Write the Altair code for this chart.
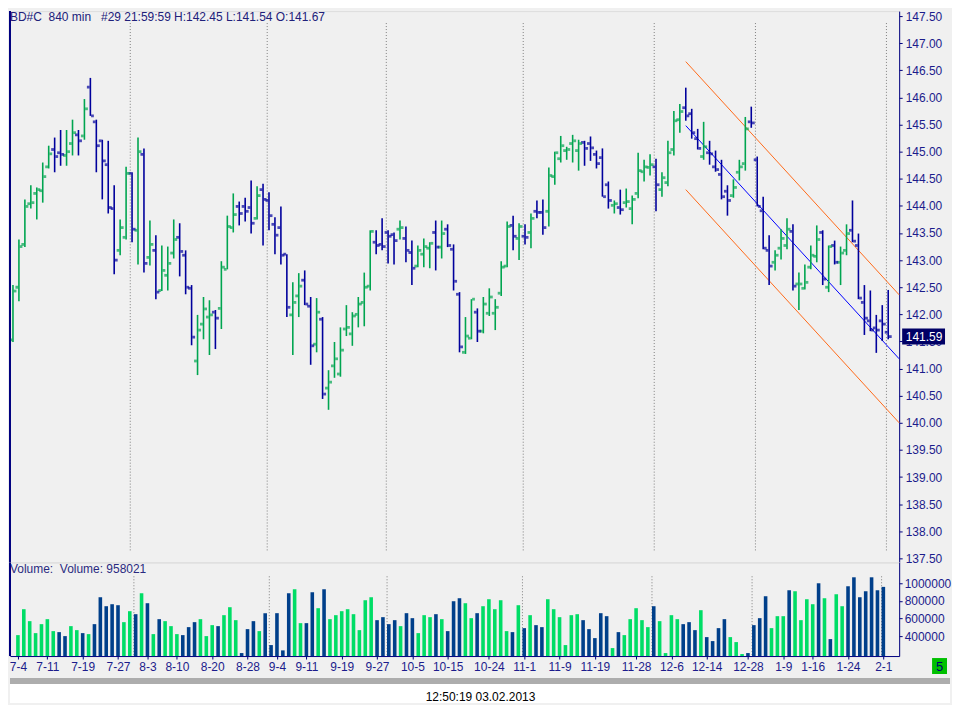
import altair as alt
import pandas as pd
import numpy as np

# ---------------- data ----------------
opens = [141.53,142.50,143.29,144.04,144.23,144.28,144.72,145.04,144.98,144.93,
145.15,145.31,145.29,146.19,145.55,145.20,144.76,143.95,143.18,143.42,
144.60,143.55,144.95,143.05,143.18,142.44,142.72,143.13,143.42,143.09,
142.48,141.14,141.82,141.95,142.04,142.11,142.83,143.60,143.99,143.99,
143.97,143.77,144.30,144.10,143.66,143.60,143.11,141.99,142.34,142.63,
142.15,141.45,141.91,140.64,141.05,140.90,141.73,141.64,142.00,142.22,
142.52,143.33,143.29,143.51,143.47,143.57,143.40,143.14,142.89,143.11,
143.22,143.51,143.24,143.57,143.20,142.37,141.30,141.56,142.04,141.69,
142.02,142.02,142.39,142.89,143.64,143.40,143.44,143.51,143.90,143.88,
143.90,144.54,144.87,145.02,145.15,145.02,145.17,145.15,144.95,144.89,
144.39,144.01,143.97,144.06,143.95,144.23,144.63,144.71,144.72,144.30,
144.43,145.04,145.59,145.81,145.70,145.24,144.91,144.98,144.72,144.58,
144.27,144.19,144.62,144.78,145.55,144.85,143.91,143.18,142.96,143.22,
143.27,143.53,142.56,142.48,142.87,143.07,143.51,142.50,143.27,142.96,
143.18,143.55,143.27,142.22,141.88,141.75,141.88,141.67]

highs = [142.54,143.38,144.12,144.38,144.34,144.80,145.11,145.26,145.40,145.40,
145.59,145.40,145.97,146.36,145.59,145.22,145.20,144.38,143.75,144.72,
144.62,145.26,145.06,143.73,143.46,143.27,143.25,143.75,143.68,143.18,
142.54,141.99,142.32,142.26,142.08,142.98,143.82,144.23,144.08,144.15,
144.47,144.36,144.41,144.25,143.79,143.99,143.11,142.59,142.76,142.81,
142.32,142.30,141.95,140.97,141.49,141.76,142.17,142.04,142.32,142.77,
143.55,143.55,143.77,143.55,143.51,143.73,143.62,143.36,143.27,143.40,
143.33,143.73,143.73,143.66,143.29,142.41,141.95,142.28,142.11,142.32,
142.48,142.28,142.98,143.71,143.82,143.68,143.66,143.86,144.10,144.12,
144.71,145.00,145.29,145.09,145.31,145.22,145.20,145.28,145.02,145.06,
144.45,144.10,144.30,144.32,144.19,144.98,144.85,144.95,144.87,144.62,
145.20,145.75,145.88,146.18,145.79,145.42,145.55,145.20,145.02,144.85,
144.38,144.49,144.85,145.64,145.83,144.91,144.17,143.46,143.18,143.57,
143.77,143.66,142.77,142.92,143.27,143.64,143.55,143.27,143.36,143.25,
143.66,144.10,143.49,142.54,142.44,141.99,142.17,142.45]

lows = [141.49,142.24,143.24,143.95,143.75,144.06,144.69,144.62,144.74,144.74,
144.93,144.93,145.22,145.66,144.62,144.12,143.86,142.74,143.09,143.38,
143.33,142.92,142.77,142.90,142.28,142.43,142.44,143.03,142.70,142.37,
141.43,140.88,141.54,141.25,141.36,141.73,142.83,143.51,143.64,143.71,
143.49,143.75,143.27,143.55,143.11,142.92,141.95,141.25,141.95,142.17,
141.07,141.30,140.44,140.24,140.83,140.85,141.60,141.42,141.76,141.78,
142.44,143.11,143.18,142.94,142.92,143.38,142.96,142.54,142.87,142.87,
142.85,142.81,143.03,143.24,142.44,141.30,141.27,141.54,141.49,141.65,
141.97,141.71,142.34,142.87,143.18,143.00,143.29,143.22,143.77,143.47,
143.62,144.39,144.80,144.85,144.80,144.65,144.74,144.83,144.69,144.17,
143.95,143.86,143.84,143.97,143.66,144.14,144.45,144.56,143.90,144.17,
144.36,144.93,145.35,145.57,145.24,145.04,144.85,144.76,144.63,144.12,
143.82,144.15,144.47,144.65,145.44,143.99,143.20,142.54,142.81,143.01,
143.20,142.44,142.08,142.46,142.83,142.96,142.54,142.41,142.92,142.54,
143.09,143.33,142.28,141.62,141.69,141.29,141.51,141.54]

closes = [142.43,143.25,143.99,144.06,144.30,144.54,144.96,144.91,144.95,145.00,
145.35,145.20,145.79,145.66,145.11,144.83,143.97,143.00,143.60,144.60,
143.57,145.00,142.94,143.29,142.41,142.81,142.94,143.38,143.16,142.50,
141.58,141.71,142.10,141.99,141.93,142.87,143.62,143.84,143.86,143.90,
143.68,144.19,144.12,143.82,143.46,143.09,142.13,142.22,142.52,142.19,
141.42,142.04,140.53,140.75,141.18,141.34,141.76,141.97,142.19,142.50,
143.53,143.27,143.25,143.44,143.36,143.60,143.18,142.85,143.18,143.25,
143.31,143.24,143.49,143.27,142.61,141.40,141.60,142.28,141.69,142.19,
142.32,142.13,142.87,143.62,143.44,143.62,143.42,143.77,143.88,143.60,
144.56,144.98,145.11,145.04,145.20,145.15,145.06,145.07,144.78,144.17,
144.10,144.04,143.93,144.08,144.12,144.65,144.72,144.76,144.39,144.52,
144.98,145.57,145.74,145.66,145.35,145.06,145.09,144.96,144.67,144.17,
144.10,144.34,144.72,145.42,145.53,143.99,143.22,142.89,143.09,143.40,
143.57,142.52,142.56,142.59,143.09,143.38,142.65,143.25,142.96,143.13,
143.49,143.35,142.30,141.93,141.71,141.71,141.82,141.59]

volumes = [411300,705000,569500,433900,535600,592100,456500,445200,400000,513000,
467800,433900,422600,535600,840600,738900,761500,750200,558200,682500,
648600,885800,772800,422600,592100,569500,513000,422600,411300,501700,
558200,592100,400000,524300,513000,637300,727600,580800,207900,479100,
569500,456500,659900,298300,659900,238100,885800,931000,546900,546900,
897100,716300,931000,592100,637300,682500,705000,648600,467800,806700,
840600,580800,614700,535600,580800,513000,659900,603400,433900,637300,
614700,648600,592100,456500,795400,829300,772800,603400,659900,738900,
818000,705000,806700,456500,445200,750200,490400,637300,524300,501700,
818000,705000,614700,298300,637300,648600,580800,479100,377400,659900,
626000,264400,445200,411300,592100,716300,580800,501700,738900,569500,
207900,637300,592100,535600,558200,467800,693700,388700,343500,490400,
592100,388700,332200,196600,207900,524300,603400,851900,490400,626000,
626000,919700,908400,580800,818000,761500,998800,829300,366100,874500,
738900,964900,1066600,840600,908400,1066600,919700,958021]

date_labels = ["7-4","7-11","7-19","7-27","8-3","8-10","8-20","8-28","9-4","9-11",
               "9-19","9-27","10-5","10-15","10-24","11-1","11-9","11-19","11-28",
               "12-6","12-14","12-28","1-9","1-16","1-24","2-1"]
date_idx = [0,5,11,17,22,27,33,39,44,49,55,61,67,73,80,86,92,98,105,111,117,124,130,135,141,147]

month_sep = [19.7, 42.7, 62.7, 85.7, 107.7, 124.7, 146.7]

chan_name = ["upper", "mid", "lower"]
chan_start_idx = [113, 113, 113]
chan_end_idx = [148.84, 148.84, 148.84]
chan_start = [146.66, 145.48, 144.30]
chan_end = [142.36, 141.18, 140.00]

price_ticks = [137.5 + 0.5 * k for k in range(21)]
vol_ticks = [400000, 600000, 800000, 1000000]

header = "BD#C\u00a0\u00a0840 min\u00a0\u00a0\u00a0#29 21:59:59 H:142.45 L:141.54 O:141.67"
vol_title = "Volume:\u00a0\u00a0Volume: " + str(volumes[-1])
stamp = "12:50:19 03.02.2013"

# ---------------- styling ----------------
W = 892
HP = 553
HV = 94
GREEN = "#00A550"
NAVY = "#00009C"
VGREEN = "#00DD66"
VBLUE = "#003F8A"
AXNAVY = "#000080"
LABC = "#1C1C8C"
FONT = "Liberation Sans"

df = pd.DataFrame({"i": list(range(len(opens))), "o": opens, "h": highs,
                   "l": lows, "c": closes, "v": volumes})
df["dir"] = np.where(df["c"] >= df["o"], "up", "down")

xs = alt.Scale(domain=[-0.5, 148.84], nice=False, zero=False)
ys = alt.Scale(domain=[137.427, 147.592], nice=False, zero=False)
vs = alt.Scale(domain=[174000, 1236000], nice=False, zero=False)

price_axis = alt.Axis(orient="right", values=price_ticks, format=".2f", title=None,
                      grid=False, tickSize=3, labelPadding=3, labelOverlap=False,
                      labelColor=LABC, domainColor=AXNAVY, tickColor=AXNAVY,
                      labelFontSize=12, labelFont=FONT)

def py(field):
    return alt.Y(field, type="quantitative", scale=ys, axis=price_axis)

def px(field):
    return alt.X(field, type="quantitative", scale=xs, axis=None)

pcolor = alt.Color("dir:N", scale=alt.Scale(domain=["up", "down"], range=[GREEN, NAVY]), legend=None)

base = alt.Chart(df)

month_df = pd.DataFrame({"m": month_sep})
sep_p = alt.Chart(month_df).mark_rule(color="#808080", strokeDash=[1, 2], strokeWidth=1).encode(
    x=px("m"), y=alt.value(12), y2=alt.value(542))

hl = base.mark_rule(strokeWidth=1.6).encode(x=px("i"), y=py("l"), y2=alt.Y2("h"), color=pcolor)
op = base.mark_tick(orient="horizontal", size=2.8, thickness=2.8, xOffset=-2.1).encode(
    x=px("i"), y=py("o"), color=pcolor)
cl = base.mark_tick(orient="horizontal", size=2.8, thickness=2.8, xOffset=2.1).encode(
    x=px("i"), y=py("c"), color=pcolor)

ch = pd.DataFrame({"name": chan_name, "x0": chan_start_idx, "x1": chan_end_idx,
                   "y0": chan_start, "y1": chan_end})
chan_edges = alt.Chart(ch).transform_filter("datum.name != 'mid'").mark_rule(
    color="#FF6A1A", strokeWidth=1).encode(x=px("x0"), x2=alt.X2("x1"), y=py("y0"), y2=alt.Y2("y1"))
chan_mid = alt.Chart(ch).transform_filter("datum.name == 'mid'").mark_rule(
    color="#0000FF", strokeWidth=1).encode(x=px("x0"), x2=alt.X2("x1"), y=py("y0"), y2=alt.Y2("y1"))

head = alt.Chart(pd.DataFrame({"t": [header]})).mark_text(
    align="left", baseline="middle", fontSize=12, font=FONT, color="#20207A").encode(
    x=alt.value(0), y=alt.value(6), text="t:N")

last_df = pd.DataFrame({"p": [closes[-1]], "lab": [f"{closes[-1]:.2f}"]})
box = alt.Chart(last_df).transform_calculate(
    top="datum.p + 0.147", bot="datum.p - 0.147").mark_rect(color="#000066").encode(
    x=alt.value(W + 3), x2=alt.value(W + 46), y=py("top"), y2=alt.Y2("bot"))
box_t = alt.Chart(last_df).mark_text(color="white", fontSize=12, font=FONT,
                                     align="center", baseline="middle").encode(
    x=alt.value(W + 25), y=py("p"), text="lab:N")

left_p = alt.Chart(pd.DataFrame({"a": [0]})).mark_rule(color=AXNAVY, strokeWidth=2).encode(x=alt.value(0))

price = alt.layer(sep_p, chan_edges, chan_mid, hl, op, cl, box, box_t, head, left_p).properties(
    width=W, height=HP)

# ---------------- volume panel ----------------
label_expr = ("[" + ",".join("'%s'" % s for s in date_labels) + "][indexof(["
              + ",".join(str(v) for v in date_idx) + "], datum.value)]")

x_axis = alt.Axis(orient="bottom", values=date_idx, labelExpr=label_expr, title=None, grid=False,
                  tickSize=3, labelPadding=2, labelOverlap=False, labelFlush=5,
                  labelColor=LABC, domainColor=AXNAVY, tickColor=AXNAVY,
                  labelFontSize=12, labelFont=FONT)
vol_axis = alt.Axis(orient="right", values=vol_ticks, format="d", title=None, grid=False,
                    tickSize=3, labelPadding=2, labelOverlap=False,
                    labelColor=LABC, domainColor=AXNAVY, tickColor=AXNAVY,
                    labelFontSize=12, labelFont=FONT)

vcolor = alt.Color("dir:N", scale=alt.Scale(domain=["up", "down"], range=[VGREEN, VBLUE]), legend=None)

vbars = base.mark_bar(size=3.6).encode(
    x=alt.X("i:Q", scale=xs, axis=x_axis),
    y=alt.Y("v:Q", scale=vs, axis=vol_axis, stack=None),
    y2=alt.value(HV),
    color=vcolor)

sep_v = alt.Chart(month_df).mark_rule(color="#808080", strokeDash=[1, 2], strokeWidth=1).encode(
    x=alt.X("m:Q", scale=xs, axis=x_axis), y=alt.value(14), y2=alt.value(HV))

vtitle = alt.Chart(pd.DataFrame({"t": [vol_title]})).mark_text(
    align="left", baseline="middle", fontSize=12, font=FONT, color="#2A2A80").encode(
    x=alt.value(0), y=alt.value(7), text="t:N")

left_v = alt.Chart(pd.DataFrame({"a": [0]})).mark_rule(color=AXNAVY, strokeWidth=2).encode(x=alt.value(0))

deco = pd.DataFrame({"a": [0]})
band = alt.Chart(deco).mark_rect(color="#ADADAD").encode(
    x=alt.value(0), x2=alt.value(943), y=alt.value(116), y2=alt.value(122))
white = alt.Chart(deco).mark_rect(color="#FFFFFF").encode(
    x=alt.value(0), x2=alt.value(943), y=alt.value(122), y2=alt.value(141))
stamp_t = alt.Chart(pd.DataFrame({"t": [stamp]})).mark_text(
    align="center", baseline="middle", fontSize=12, font=FONT, color="#000000").encode(
    x=alt.value(472), y=alt.value(135), text="t:N")
gbox = alt.Chart(deco).mark_rect(color="#00C000").encode(
    x=alt.value(925), x2=alt.value(940), y=alt.value(96), y2=alt.value(112))
gbox_t = alt.Chart(pd.DataFrame({"t": ["5"]})).mark_text(
    align="center", baseline="middle", fontSize=13, font=FONT, color="#000070").encode(
    x=alt.value(932.5), y=alt.value(104.5), text="t:N")

volume = alt.layer(sep_v, vbars, vtitle, left_v, band, white, stamp_t, gbox, gbox_t).properties(
    width=W, height=HV)

chart = alt.vconcat(price, volume, spacing=0, bounds="flush").resolve_scale(
    color="independent").properties(padding=0, background="#F0F0F0").configure_view(
    stroke=None, fill="#F3F3F3").configure(font=FONT)

chart.save("out.html", embed_options={"renderer": "svg", "actions": False})
